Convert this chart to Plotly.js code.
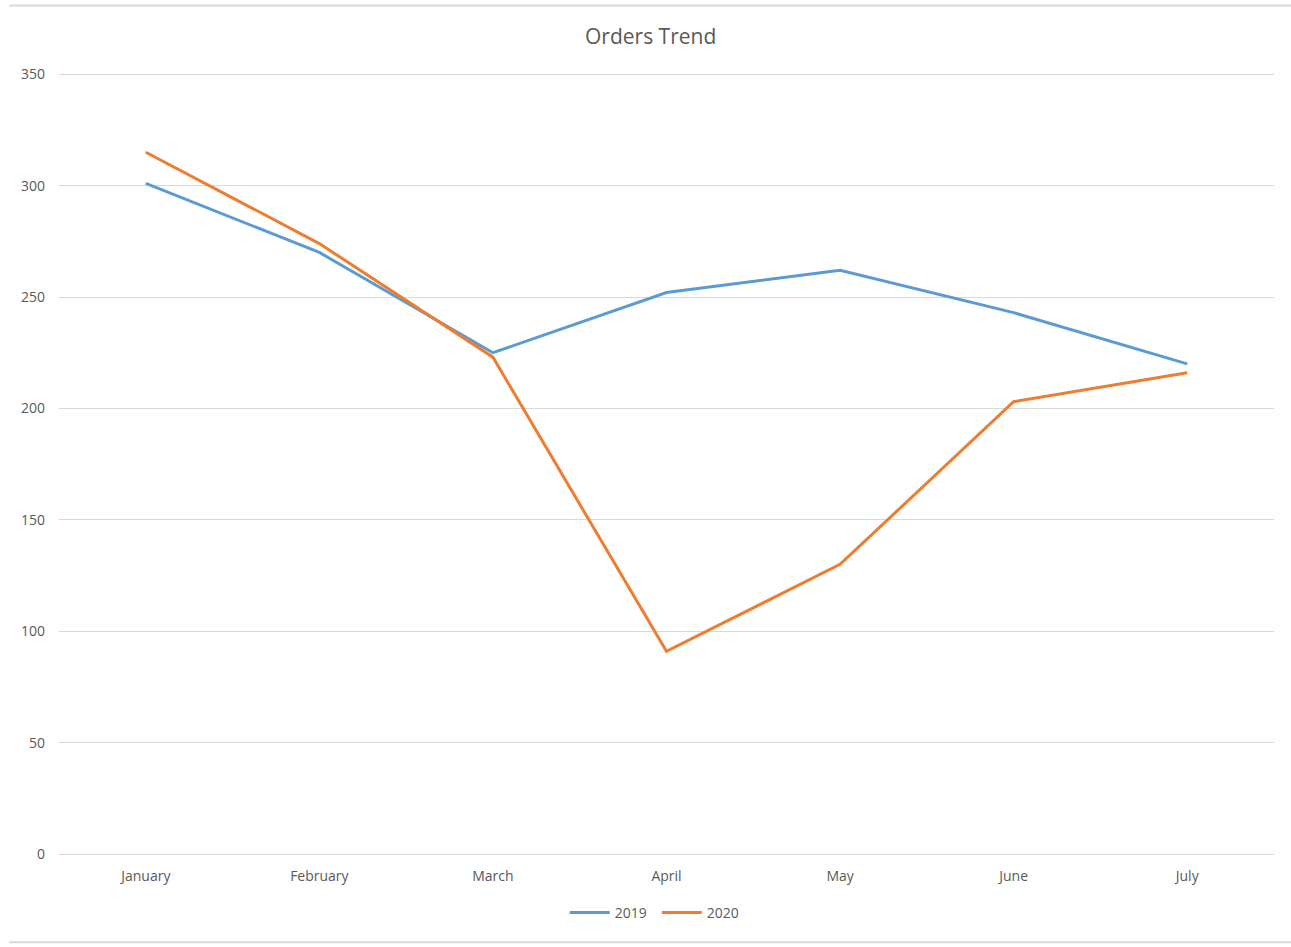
<!DOCTYPE html>
<html>
<head>
<meta charset="utf-8">
<script src="https://cdn.plot.ly/plotly-3.0.1.min.js"></script>
<style>
  html, body { margin: 0; padding: 0; background: #fff; }
  #chart { width: 1291px; height: 947px; }
</style>
</head>
<body>
<div id="chart"></div>
<script>
const months = ["January", "February", "March", "April", "May", "June", "July"];
const orders2019 = [301, 270, 225, 252, 262, 243, 220];
const orders2020 = [315, 274, 223, 91, 130, 203, 216];
const yTicks = [0, 50, 100, 150, 200, 250, 300, 350];

const traces = [
  { x: months, y: orders2019, name: "2019", type: "scatter", mode: "lines",
    line: { color: "#5B9BD5", width: 3 } },
  { x: months, y: orders2020, name: "2020", type: "scatter", mode: "lines",
    line: { color: "#ED7D31", width: 3 } }
];

const FONT = "'Open Sans', 'Noto Sans', sans-serif";

const layout = {
  width: 1291, height: 947,
  margin: { l: 59, r: 17, t: 72, b: 93 },
  paper_bgcolor: "#ffffff", plot_bgcolor: "#ffffff",
  font: { family: FONT, color: "#595959", size: 14 },
  title: { text: "Orders Trend", x: 0.504, xanchor: "center", y: 0.961, yanchor: "middle",
           font: { size: 21, color: "#595959", family: FONT } },
  showlegend: true,
  legend: { orientation: "h", x: 0.492, xanchor: "center", y: -0.055, yanchor: "top",
            font: { size: 14, color: "#595959", family: FONT }, itemwidth: 40, entrywidth: 37 },
  xaxis: { type: "category", range: [-0.5, 6.5], showgrid: false, zeroline: false,
           showline: false, ticks: "", ticklabelstandoff: 12,
           tickfont: { size: 14, color: "#595959", family: FONT }, fixedrange: true },
  yaxis: { range: [0, 351], tickvals: yTicks, showgrid: true, gridcolor: "#D9D9D9", gridwidth: 1,
           zeroline: true, zerolinecolor: "#D9D9D9", zerolinewidth: 1, showline: false, ticks: "",
           ticklabelstandoff: 13, tickfont: { size: 14, color: "#595959", family: FONT }, fixedrange: true },
  shapes: [
    { type: "line", xref: "paper", yref: "paper", x0: -0.041, x1: 1.014, y0: 1.085, y1: 1.085,
      line: { color: "#D9D9D9", width: 2 } },
    { type: "line", xref: "paper", yref: "paper", x0: -0.041, x1: 1.014, y0: -0.113, y1: -0.113,
      line: { color: "#D9D9D9", width: 2 } }
  ]
};

Plotly.newPlot("chart", traces, layout, { displayModeBar: false, staticPlot: true });
</script>
</body>
</html>
